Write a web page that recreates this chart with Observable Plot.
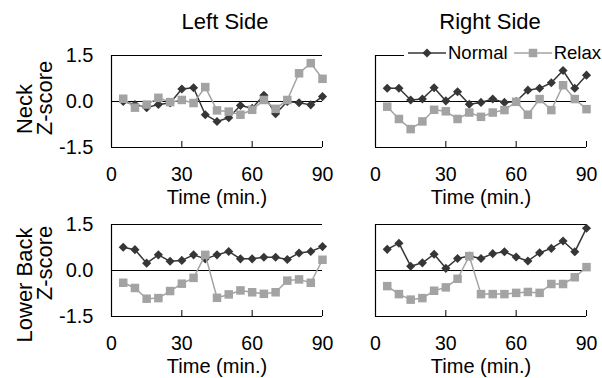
<!DOCTYPE html>
<html><head><meta charset="utf-8">
<script src="https://cdn.jsdelivr.net/npm/d3@7"></script>
<script src="https://cdn.jsdelivr.net/npm/@observablehq/plot@0.6"></script>
<style>
body{margin:0;background:#fff;}
#chart{position:relative;width:602px;height:378px;overflow:hidden;font-family:"Liberation Sans",Arial,sans-serif;color:#000;background:#fff;}
.panel{position:absolute;}
.lbl{position:absolute;white-space:nowrap;line-height:1;transform:translate(-50%,-50%);font-size:22px;}
.rot{transform:translate(-50%,-50%) rotate(-90deg);}
#legend{position:absolute;left:404px;top:43px;height:20px;background:#fff;display:flex;align-items:center;font-size:18.5px;line-height:20px;padding-right:4px;}
#legend span{display:inline-flex;align-items:center;}
</style></head><body><div id="chart"></div><script>
// ---- data ----
const times = [5,10,15,20,25,30,35,40,45,50,55,60,65,70,75,80,85,90];
const xTicks = [0,30,60,90];
const yTicks = [-1.5,0,1.5];
const seriesNames = ["Normal","Relax"];
const colTitles = ["Left Side","Right Side"];
const rowTitles = ["Neck","Lower Back"];
const yTitle = "Z-score";
const xTitle = "Time (min.)";

const neckLeftNormal  = [0.0,-0.1,-0.2,-0.1,-0.05,0.41,0.45,-0.43,-0.65,-0.53,-0.13,-0.22,0.2,-0.4,0.0,-0.04,-0.11,0.16];
const neckLeftRelax   = [0.09,-0.2,-0.1,0.12,-0.02,0.05,-0.05,0.47,-0.29,-0.33,-0.43,-0.27,0.05,-0.24,0.05,0.92,1.25,0.74];
const neckRightNormal = [0.43,0.43,0.05,0.08,0.45,0.02,0.32,-0.09,-0.03,0.08,-0.03,0.0,0.37,0.43,0.61,1.01,0.43,0.86];
const neckRightRelax  = [-0.17,-0.57,-0.9,-0.65,-0.27,-0.32,-0.57,-0.36,-0.5,-0.36,-0.28,-0.01,-0.43,0.08,-0.28,0.53,0.08,-0.25];
const lowLeftNormal   = [0.76,0.68,0.24,0.51,0.3,0.33,0.51,0.38,0.51,0.62,0.38,0.38,0.43,0.43,0.36,0.57,0.62,0.78];
const lowLeftRelax    = [-0.4,-0.57,-0.92,-0.9,-0.67,-0.43,-0.24,0.51,-0.89,-0.78,-0.65,-0.71,-0.76,-0.71,-0.33,-0.29,-0.4,0.35];
const lowRightNormal  = [0.69,0.89,0.14,0.25,0.53,0.07,0.39,0.47,0.39,0.55,0.61,0.44,0.31,0.58,0.72,0.96,0.61,1.38];
const lowRightRelax   = [-0.51,-0.77,-0.95,-0.9,-0.66,-0.55,-0.27,0.47,-0.77,-0.77,-0.77,-0.73,-0.7,-0.73,-0.44,-0.44,-0.22,0.11];

// ---- styles / layout ----
const NC = "#363636", RC = "#a3a3a3";
const FONT = '"Liberation Sans", Arial, sans-serif';
const ML = 70, MR = 15, MT = 15, MB = 60, PW = 211, PH = 92;
const panelX = [111, 375];
const panelY = [55, 224];

const chart = document.getElementById("chart");

function rowsOf(arr){ return times.map((t,i)=>({t, v: arr[i]})); }

function panel(normal, relax, showY){
  const nr = rowsOf(normal), rr = rowsOf(relax);
  return Plot.plot({
    width: ML+PW+MR, height: MT+PH+MB,
    marginLeft: ML, marginRight: MR, marginTop: MT, marginBottom: MB,
    style: {fontFamily: FONT, fontSize: "19.5px", background: "transparent", overflow: "visible", color: "#000"},
    x: {domain: [0,90], axis: null},
    y: {domain: [-1.5,1.5], axis: null},
    marks: [
      Plot.ruleY([yTicks[0], yTicks[2]], {stroke: "#000", strokeWidth: 1}),
      Plot.ruleY([0], {stroke: "#000", strokeWidth: 1}),
      Plot.ruleX([0], {stroke: "#000", strokeWidth: 1.2}),
      Plot.axisX({ticks: xTicks, tickSize: -6, tickPadding: 26, label: null, fontSize: 19.5, stroke: "#000", fill: "#000"}),
      showY ? Plot.axisY({ticks: yTicks, tickSize: 0, tickPadding: 18, tickFormat: d => d.toFixed(1), label: null, fontSize: 20, fill: "#000"}) : null,
      Plot.text([xTitle], {text: d => d, frameAnchor: "bottom", dy: 56, lineAnchor: "bottom", fontSize: 20, fill: "#000"}),
      Plot.line(nr, {x: "t", y: "v", stroke: NC, strokeWidth: 1.5}),
      Plot.dot(nr, {x: "t", y: "v", symbol: "diamond2", fill: NC, stroke: null, r: 4.1}),
      Plot.line(rr, {x: "t", y: "v", stroke: RC, strokeWidth: 1.5}),
      Plot.dot(rr, {x: "t", y: "v", symbol: "square", fill: RC, stroke: null, r: 4.8})
    ]
  });
}

const panels = [
  [neckLeftNormal, neckLeftRelax, 0, 0],
  [neckRightNormal, neckRightRelax, 1, 0],
  [lowLeftNormal, lowLeftRelax, 0, 1],
  [lowRightNormal, lowRightRelax, 1, 1]
];
for (const [n, r, c, row] of panels){
  const svg = panel(n, r, c === 0);
  const wrap = document.createElement("div");
  wrap.className = "panel";
  wrap.style.left = (panelX[c]-ML) + "px";
  wrap.style.top = (panelY[row]-MT) + "px";
  wrap.appendChild(svg);
  chart.appendChild(wrap);
}

function addLabel(text, x, y, rot){
  const d = document.createElement("div");
  d.className = "lbl" + (rot ? " rot" : "");
  d.textContent = text;
  d.style.left = x + "px"; d.style.top = y + "px";
  chart.appendChild(d);
}
addLabel(colTitles[0], 225, 22);
addLabel(colTitles[1], 490, 22);
addLabel(rowTitles[0], 25, 109, true);
addLabel(yTitle, 45, 98, true);
addLabel(rowTitles[1], 25, 285, true);
addLabel(yTitle, 45, 263, true);

// legend
function swatch(sym, color, r){
  const p = d3.symbol(sym, Math.PI*r*r)();
  return `<svg width="38" height="14" style="display:block"><line x1="0" x2="38" y1="7" y2="7" stroke="${color}" stroke-width="1.5"/><path d="${p}" transform="translate(19,7)" fill="${color}"/></svg>`;
}
const lg = document.createElement("div");
lg.id = "legend";
lg.innerHTML =
  `<span style="margin-left:4px">${swatch(d3.symbolDiamond2, NC, 4.1)}</span><span style="margin-left:2px">${seriesNames[0]}</span>` +
  `<span style="margin-left:6px">${swatch(d3.symbolSquare, RC, 4.8)}</span><span style="margin-left:2px">${seriesNames[1]}</span>`;
chart.appendChild(lg);
</script></body></html>
